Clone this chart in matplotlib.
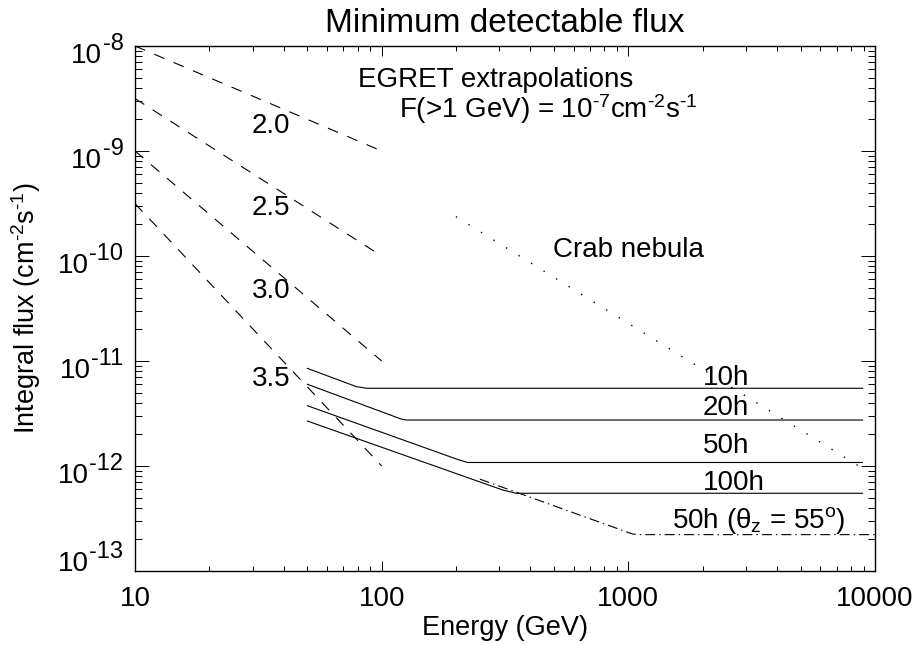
import matplotlib
matplotlib.use("Agg")
import matplotlib.pyplot as plt
import numpy as np

matplotlib.rcParams.update({'font.family': 'Liberation Sans',
                            'mathtext.fontset': 'custom',
                            'mathtext.rm': 'Liberation Sans',
                            'mathtext.it': 'Liberation Sans:italic',
                            'mathtext.bf': 'Liberation Sans:bold',
                            'lines.scale_dashes': False})

###############################################################
# data (GeV, cm^-2 s^-1)
###############################################################
egret_E = [10, 100]
egret_20 = [1.0e-8, 1.0e-9]
egret_25 = [3.16e-9, 1.0e-10]
egret_30 = [1.0e-9, 1.0e-11]
egret_35 = [3.16e-10, 1.0e-12]
egret_labels = ["2.0", "2.5", "3.0", "3.5"]
egret_label_y = [1.48e-9, 2.45e-10, 3.98e-11, 5.78e-12]

crab_E = [200, 8900]
crab_F = [2.37e-10, 9.5e-13]

E_10h = [50, 79, 87, 8900]
F_10h = [8.5e-12, 5.7e-12, 5.5e-12, 5.5e-12]
E_20h = [50, 120, 126, 8900]
F_20h = [6.0e-12, 2.8e-12, 2.74e-12, 2.74e-12]
E_50h = [50, 200, 223, 8900]
F_50h = [3.75e-12, 1.17e-12, 1.08e-12, 1.08e-12]
E_100h = [50, 310, 351, 8900]
F_100h = [2.68e-12, 5.9e-13, 5.5e-13, 5.5e-13]
E_50h55 = [250, 1040, 1110, 10000]
F_50h55 = [7.5e-13, 2.25e-13, 2.22e-13, 2.22e-13]

time_labels = ["10h", "20h", "50h", "100h"]
time_label_y = [5.9e-12, 3.06e-12, 1.33e-12, 5.9e-13]

ytick_vals = [1e-8, 1e-9, 1e-10, 1e-11, 1e-12, 1e-13]
ytick_exp = ["-8", "-9", "-10", "-11", "-12", "-13"]
xtick_vals = [10, 100, 1000, 10000]
xtick_labels = ["10", "100", "1000", "10000"]

###############################################################
fig = plt.figure(figsize=(9.17, 6.45), dpi=100)
ax = fig.add_axes([135/917, 1 - 571/645, 740/917, 525/645])
ax.set_xscale('log')
ax.set_yscale('log')
ax.set_xlim(10, 10000)
ax.set_ylim(1e-13, 1e-8)

# EGRET extrapolations
for F in [egret_20, egret_25, egret_30, egret_35]:
    ax.plot(egret_E, F, color='k', lw=0.8, dashes=(7.9, 7.2))
for lab, y in zip(egret_labels, egret_label_y):
    ax.text(35.5, y, lab, fontsize=20, ha='center', va='baseline')

# Crab
ax.plot(crab_E, crab_F, color='k', lw=1.0, dashes=(1.0, 9.6), solid_capstyle='butt',
        dash_capstyle='butt')

# sensitivities
for E, F in [(E_10h, F_10h), (E_20h, F_20h), (E_50h, F_50h), (E_100h, F_100h)]:
    ax.plot(E, F, color='k', lw=0.8)
ax.plot(E_50h55, F_50h55, color='k', lw=0.8, dashes=(7.2, 2.9, 1.0, 2.9))

for lab, y in zip(time_labels, time_label_y):
    ax.text(2000, y, lab, fontsize=20, ha='left', va='baseline')
ax.text(1500, 2.57e-13, "50h (\u03b8$_{\\text{z}}$ = 55$^{\\text{o}}$)", fontsize=20,
        ha='left', va='baseline')

ax.text(80, 4.07e-9, "EGRET extrapolations", fontsize=20, ha='left', va='baseline')
ax.text(118, 2.06e-9, "F(>1 GeV) = 10$^{\\text{-7}}$cm$^{\\text{-2}}$s$^{\\text{-1}}$",
        fontsize=20, ha='left', va='baseline')
ax.text(497, 9.77e-11, "Crab nebula", fontsize=20, ha='left', va='baseline')

# axes style (IDL like)
ax.tick_params(which='both', direction='in', top=True, right=True, width=0.7)
ax.tick_params(axis='x', which='major', length=7.2, pad=11, labelsize=20)
ax.tick_params(axis='x', which='minor', length=3.6)
ax.tick_params(axis='y', which='major', length=10.4)
ax.tick_params(axis='y', which='minor', length=4.7)
for s in ax.spines.values():
    s.set_linewidth(1.0)

ax.set_xticks(xtick_vals)
ax.set_xticklabels(xtick_labels)
ax.set_yticks(ytick_vals)
ax.set_yticklabels([])

# y tick labels with big superscripts
for v, e in zip(ytick_vals, ytick_exp):
    dy = 12.2 if e == "-13" else 0
    sup = ax.annotate(e, xy=(0, v), xycoords=('axes fraction', 'data'),
                      xytext=(-8.3, -2.9 + dy), textcoords='offset points',
                      ha='right', va='baseline', fontsize=17)
    ax.annotate("10", xy=(0, v), xycoords=(sup, 'data'),
                xytext=(-0.6, -12.0 + dy), textcoords='offset points',
                ha='right', va='baseline', fontsize=20)

ax.set_title("Minimum detectable flux", fontsize=24, pad=10)
ax.set_xlabel("Energy (GeV)", fontsize=19.5)
ax.xaxis.set_label_coords(0.5, -(635 - 571)/525)
ax.xaxis.label.set_va('baseline')
ax.set_ylabel("Integral flux (cm$^{\\text{-2}}$s$^{\\text{-1}}$)", fontsize=19.5)
ax.yaxis.set_label_coords(-(135 - 42.7)/740, 0.5)

plt.savefig("out.png", dpi=100)
